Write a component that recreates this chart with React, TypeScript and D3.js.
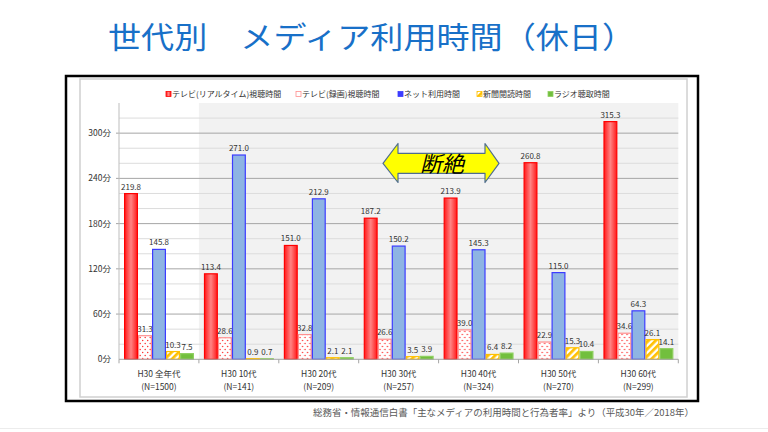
import React from "react";
import * as d3 from "d3";

const categories = ["H30 全年代", "H30 10代", "H30 20代", "H30 30代", "H30 40代", "H30 50代", "H30 60代"];
const sampleSizes = ["(N=1500)", "(N=141)", "(N=209)", "(N=257)", "(N=324)", "(N=270)", "(N=299)"];
const seriesNames = ["テレビ(リアルタイム)視聴時間", "テレビ(録画)視聴時間", "ネット利用時間", "新聞閲読時間", "ラジオ聴取時間"];
const tvRealtime = [219.8, 113.4, 151.0, 187.2, 213.9, 260.8, 315.3];
const tvRecorded = [31.3, 28.6, 32.8, 26.6, 39.0, 22.9, 34.6];
const internet = [145.8, 271.0, 212.9, 150.2, 145.3, 115.0, 64.3];
const newspaper = [10.3, 0.9, 2.1, 3.5, 6.4, 15.3, 26.1];
const radio = [7.5, 0.7, 2.1, 3.9, 8.2, 10.4, 14.1];
const yTicks = [0, 60, 120, 180, 240, 300];
const title = "世代別　メディア利用時間（休日）";
const source = "総務省・情報通信白書「主なメディアの利用時間と行為者率」より（平成30年／2018年）";
const callout = "断絶";

const seriesValues = [tvRealtime, tvRecorded, internet, newspaper, radio];
const seriesFill = ["url(#gradRed)", "url(#dots)", "#8eb4e3", "url(#stripes)", "#72bf3e"];
const seriesStroke = ["#ff0000", "#ff8f8f", "#3c3cff", "#ffc000", "#8fd060"];
const legendX = [166, 296, 398, 477, 548];

const FONT = "'Noto Sans CJK JP', 'Noto Sans', sans-serif";

export default function App() {
  const plotL = 119, plotR = 678.3, plotT = 103, plotB = 359.3;
  const x0 = d3.scaleBand<string>().domain(categories).range([plotL, plotR]).padding(0);
  const gw = x0.bandwidth();
  const x1 = d3.scaleBand<string>().domain(seriesNames).range([5, 5 + 70]).padding(0);
  const y = d3.scaleLinear().domain([0, 340]).range([plotB, plotT]);
  const grid = d3.range(20, 340, 20);

  return (
    <svg width={768} height={432} style={{ position: "absolute", left: 0, top: 0, background: "#fff" }} fontFamily={FONT}>
      <defs>
        <linearGradient id="gradRed" x1="0" x2="1" y1="0" y2="0">
          <stop offset="0" stopColor="#ff1a1a" />
          <stop offset="0.5" stopColor="#ff8383" />
          <stop offset="1" stopColor="#ff1a1a" />
        </linearGradient>
        <pattern id="dots" width="5" height="6" patternUnits="userSpaceOnUse">
          <rect width="5" height="6" fill="#fff" />
          <circle cx="1.2" cy="1.5" r="0.75" fill="#ff3030" />
          <circle cx="3.7" cy="4.5" r="0.75" fill="#ff3030" />
        </pattern>
        <pattern id="stripes" width="5" height="5" patternUnits="userSpaceOnUse" patternTransform="rotate(45)">
          <rect width="5" height="5" fill="#fff" />
          <rect width="2.7" height="5" fill="#ffc000" />
        </pattern>
      </defs>

      <text x={108} y={48} fontSize={30} fill="#1870c8" textLength={527} lengthAdjust="spacingAndGlyphs">{title}</text>

      <rect x={66} y={76} width={632} height={325} fill="#fff" stroke="#000" strokeWidth={2.5} />
      <rect x={80} y={79} width={607} height={318} fill="#fff" stroke="#d0d0d0" strokeWidth={1.5} />

      <rect x={x0(categories[1])!} y={plotT} width={plotR - x0(categories[1])!} height={plotB - plotT} fill="#f2f2f2" />

      {grid.map((g) => (
        <line key={g} x1={g % 60 === 0 ? plotL - 3 : plotL} x2={plotR} y1={y(g)} y2={y(g)}
          stroke={g % 60 === 0 ? "#a6a6a6" : "#dcdcdc"} strokeWidth={1} />
      ))}
      <line x1={plotL} x2={plotL} y1={plotT} y2={plotB} stroke="#bdbdbd" />

      {yTicks.map((t) => (
        <text key={t} x={111} y={y(t) + 3} fontSize={8.5} fill="#333" textAnchor="end">{t}分</text>
      ))}

      {categories.map((c, i) => (
        <g key={c} transform={`translate(${x0(c)},0)`}>
          {seriesNames.map((s, k) => {
            const v = seriesValues[k][i];
            const bx = x1(s)!;
            const bw = x1.bandwidth();
            return (
              <g key={s}>
                <rect x={bx + 0.6} y={y(v)} width={bw - 1.2} height={plotB - y(v)}
                  fill={seriesFill[k]} stroke={seriesStroke[k]} strokeWidth={1.2} />
                <text x={bx + bw / 2} y={y(v) - 4} fontSize={8} fill="#333" textAnchor="middle">{v.toFixed(1)}</text>
              </g>
            );
          })}
          <text x={gw / 2} y={376.5} fontSize={8.5} fill="#333" textAnchor="middle">{c}</text>
          <text x={gw / 2} y={389.5} fontSize={8.5} fill="#333" textAnchor="middle">{sampleSizes[i]}</text>
        </g>
      ))}

      <line x1={plotL} x2={plotR} y1={plotB} y2={plotB} stroke="#a6a6a6" />
      {d3.range(categories.length + 1).map((i) => {
        const xx = plotL + i * gw;
        return <line key={i} x1={xx} x2={xx} y1={plotB} y2={plotB + 4} stroke="#a6a6a6" />;
      })}

      {seriesNames.map((s, k) => (
        <g key={s}>
          <rect x={legendX[k]} y={91.5} width={5} height={5} fill={k === 1 ? "#fff" : k === 2 ? "#3c3cff" : seriesFill[k]}
            stroke={seriesStroke[k]} strokeWidth={0.8} />
          <text x={legendX[k] + 6} y={97} fontSize={8} fill="#333">{s}</text>
        </g>
      ))}

      <polygon
        points={`383,163.3 398,143.5 398,153.3 485,153.3 485,143.5 499,163.3 485,182.5 485,173.3 398,173.3 398,182.5`}
        fill="#ffff00" stroke="#4f6d8f" strokeWidth={1.2} strokeLinejoin="round" />
      <text x={442} y={171.5} fontSize={22} fontStyle="italic" fontWeight={400} fill="#000" textAnchor="middle">{callout}</text>

      <text x={694} y={416} fontSize={9.5} fill="#595959" textAnchor="end" textLength={381} lengthAdjust="spacingAndGlyphs">{source}</text>
      <line x1={0} x2={768} y1={428.5} y2={428.5} stroke="#ececec" />
    </svg>
  );
}
